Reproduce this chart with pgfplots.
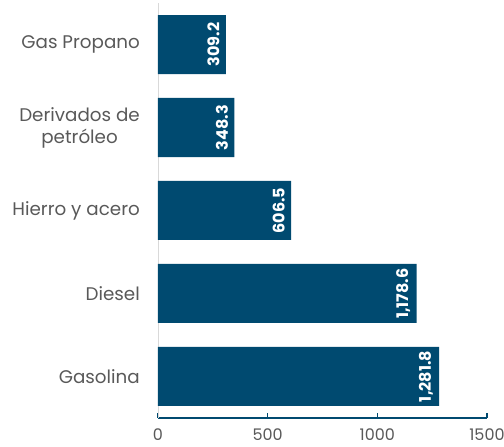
\documentclass[border=0pt]{standalone}
\usepackage{pgfplots}
\pgfplotsset{compat=1.18}
\usepackage{fontspec}
\setmainfont{Poppins}
\definecolor{barblue}{HTML}{004A70}
\definecolor{txtgray}{HTML}{595959}
\begin{document}
\begin{tikzpicture}
\begin{axis}[
  at={(0,0)}, anchor=south west,
  scale only axis,
  width=329pt, height=415pt,
  xmin=0, xmax=1500,
  ymin=-0.5, ymax=4.5,
  xbar, bar width=59pt,
  axis x line*=bottom, axis y line*=left,
  x axis line style={-, draw=barblue, line width=1.2pt},
  y axis line style={-, draw=black!15, line width=0.8pt},
  xtick={0,500,1000,1500},
  xtick pos=bottom,
  tick align=inside,
  major tick length=5pt,
  xtick style={draw=barblue, line width=1.2pt},
  ytick={0,1,2,3,4},
  yticklabels={Gasolina, Diesel, Hierro y acero, {Derivados de\\petróleo}, Gas Propano},
  ytick style={draw=none},
  yticklabel style={font=\fontsize{18.3}{22}\selectfont, text=txtgray, align=center, inner sep=0pt, xshift=-18pt},
  xticklabel style={font=\fontsize{16}{18}\selectfont, text=txtgray, /pgf/number format/1000 sep={}, inner sep=0pt, yshift=-11pt},
  /pgf/number format/assume math mode=true,
  nodes near coords={\pgfmathprintnumber[fixed,fixed zerofill,precision=1,1000 sep={,}]{\pgfplotspointmeta}},
  nodes near coords style={rotate=90, anchor=south, inner sep=6pt, text=white, font=\fontsize{16}{18}\selectfont\bfseries},
  point meta=explicit,
  clip=false,
]
\addplot[fill=barblue, draw=none] coordinates {
  (1281.8,0) [1281.8]
  (1178.6,1) [1178.6]
  (606.5,2) [606.5]
  (348.3,3) [348.3]
  (309.2,4) [309.2]
};
\end{axis}
\pgfresetboundingbox
\path (-158pt,-29pt) rectangle (346pt,418pt);
\end{tikzpicture}
\end{document}
